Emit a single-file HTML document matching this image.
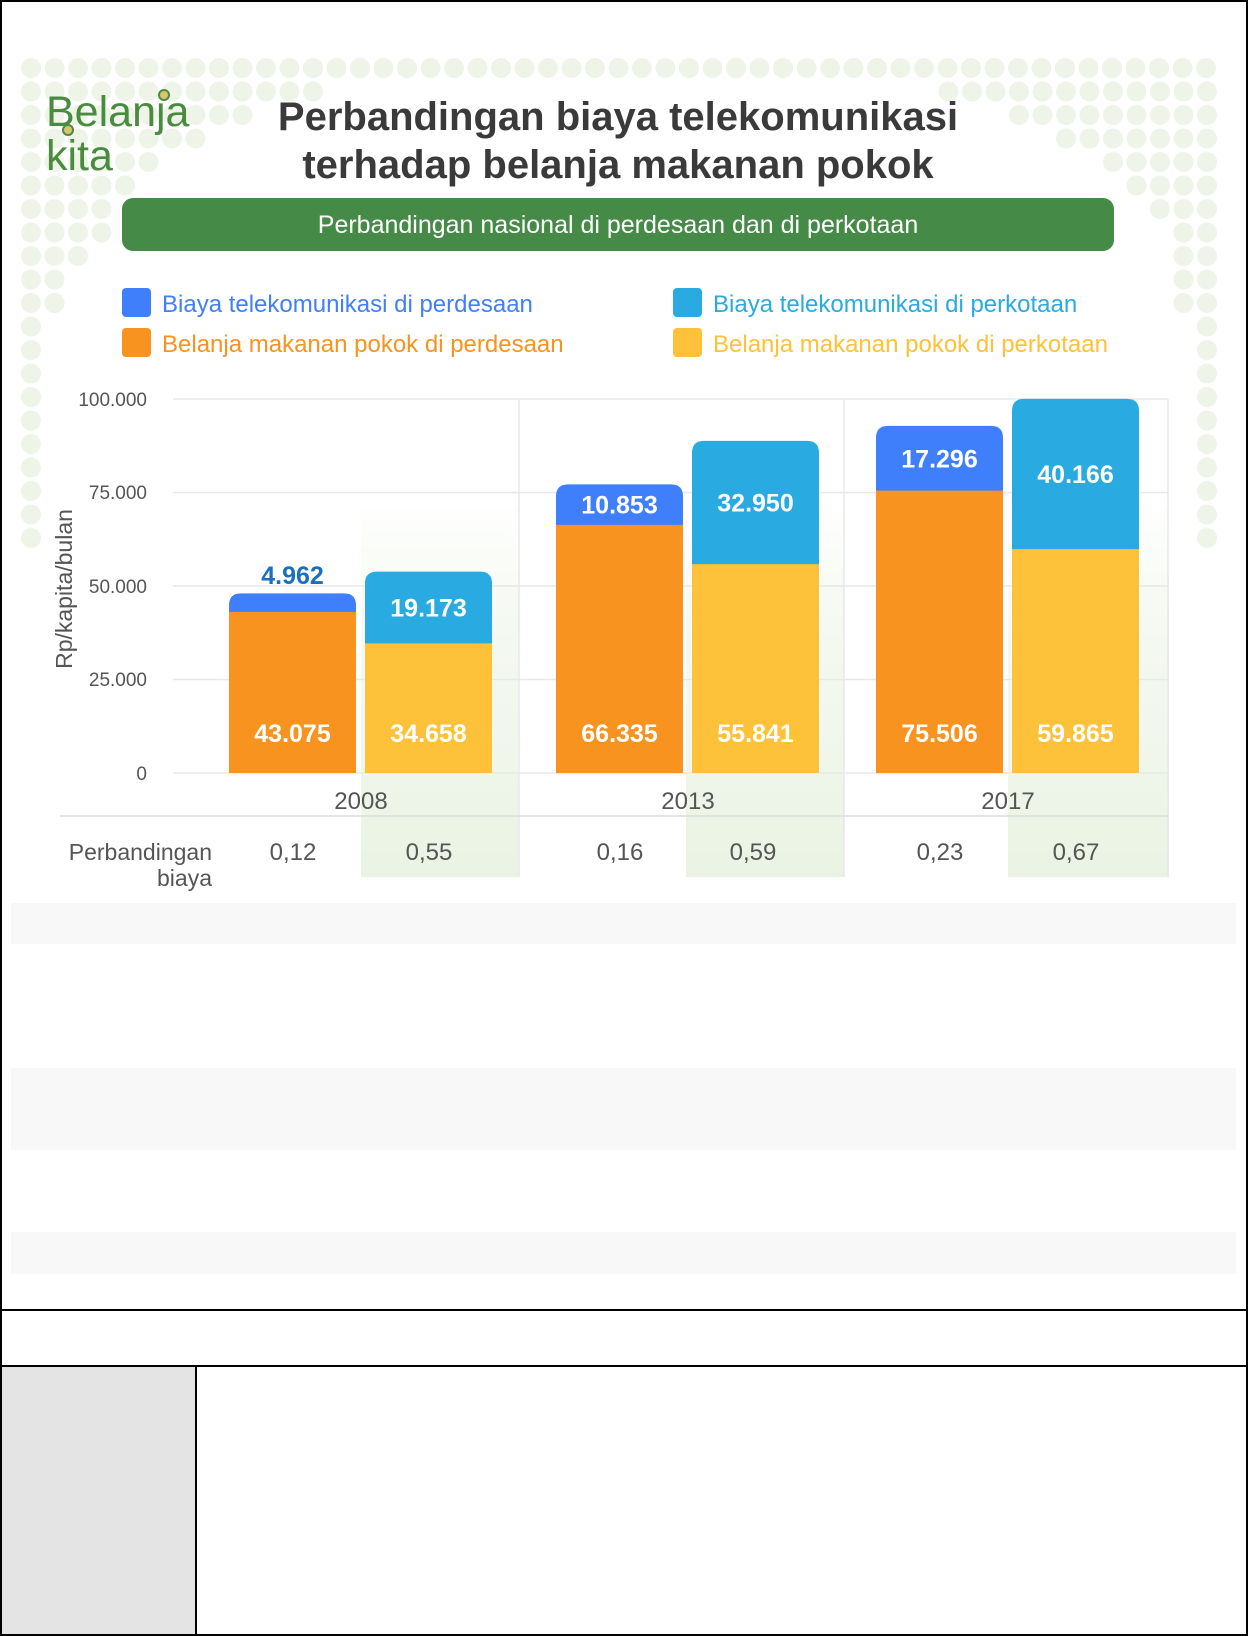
<!DOCTYPE html>
<html><head><meta charset="utf-8">
<style>
html,body{margin:0;padding:0;background:#fff;}
body{width:1248px;height:1636px;overflow:hidden;position:relative;font-family:"Liberation Sans",sans-serif;}
svg{position:absolute;left:0;top:0;}
</style></head>
<body>
<svg id="s" width="1248" height="1636" viewBox="0 0 1248 1636" xmlns="http://www.w3.org/2000/svg">
<g id="dots"></g>
<!-- logo -->
<text x="46" y="126" font-size="43" fill="#4a8c3f" font-family="Liberation Sans, sans-serif">Belanja</text>
<text x="46" y="170" font-size="43" fill="#4a8c3f" font-family="Liberation Sans, sans-serif">kita</text>
<circle cx="164" cy="95" r="5" fill="#d8c46e" stroke="#4a8c3f" stroke-width="2"/>
<circle cx="68" cy="130" r="5" fill="#d8c46e" stroke="#4a8c3f" stroke-width="2"/>
<!-- title -->
<text x="618" y="130" font-size="40" font-weight="bold" fill="#3a3a3a" text-anchor="middle">Perbandingan biaya telekomunikasi</text>
<text x="618" y="178" font-size="40" font-weight="bold" fill="#3a3a3a" text-anchor="middle">terhadap belanja makanan pokok</text>
<rect x="122" y="198" width="992" height="53" rx="11" fill="#468a47"/>
<text x="618" y="233" font-size="25" fill="#fff" text-anchor="middle">Perbandingan nasional di perdesaan dan di perkotaan</text>
<!-- legend -->
<rect x="122" y="288" width="29" height="29" rx="4" fill="#3f7ffb"/>
<text x="162" y="312" font-size="24" fill="#3f7ffb">Biaya telekomunikasi di perdesaan</text>
<rect x="122" y="328" width="29" height="29" rx="4" fill="#f7931e"/>
<text x="162" y="352" font-size="24" fill="#f7931e">Belanja makanan pokok di perdesaan</text>
<rect x="673" y="288" width="29" height="29" rx="4" fill="#29aae1"/>
<text x="713" y="312" font-size="24" fill="#29aae1">Biaya telekomunikasi di perkotaan</text>
<rect x="673" y="328" width="29" height="29" rx="4" fill="#fdc13a"/>
<text x="713" y="352" font-size="24" fill="#fdc13a">Belanja makanan pokok di perkotaan</text>
<defs>
<linearGradient id="gr" x1="0" y1="0" x2="0" y2="1">
<stop offset="0" stop-color="#f1f7ec" stop-opacity="0"/>
<stop offset="0.3" stop-color="#f1f7ec" stop-opacity="0.7"/>
<stop offset="1" stop-color="#eaf3e3"/>
</linearGradient>
</defs>
<rect x="361" y="501" width="158" height="376" fill="url(#gr)"/>
<rect x="686" y="501" width="158" height="376" fill="url(#gr)"/>
<rect x="1008" y="501" width="161" height="376" fill="url(#gr)"/>
<g stroke="#e8e8e8" stroke-width="1.5">
<line x1="173" y1="399" x2="1168" y2="399"/>
<line x1="173" y1="492.5" x2="1168" y2="492.5"/>
<line x1="173" y1="586" x2="1168" y2="586"/>
<line x1="173" y1="679.5" x2="1168" y2="679.5"/>
<line x1="173" y1="773" x2="1168" y2="773"/>
<line x1="519" y1="399" x2="519" y2="877"/>
<line x1="844" y1="399" x2="844" y2="877"/>
<line x1="1168" y1="399" x2="1168" y2="877"/>
<line x1="60" y1="816" x2="1168" y2="816" stroke="#dcdcdc"/>
</g>
<g font-size="19" fill="#555" text-anchor="end">
<text x="147" y="406">100.000</text>
<text x="147" y="499">75.000</text>
<text x="147" y="593">50.000</text>
<text x="147" y="686">25.000</text>
<text x="147" y="780">0</text>
</g>
<text transform="translate(72,589) rotate(-90)" font-size="23" fill="#555" text-anchor="middle">Rp/kapita/bulan</text>
<g id="bars"></g>
<g font-size="24" fill="#555" text-anchor="middle">
<text x="361" y="809">2008</text>
<text x="688" y="809">2013</text>
<text x="1008" y="809">2017</text>
<text x="293" y="860">0,12</text>
<text x="429" y="860">0,55</text>
<text x="620" y="860">0,16</text>
<text x="753" y="860">0,59</text>
<text x="940" y="860">0,23</text>
<text x="1076" y="860">0,67</text>
</g>
<text x="212" y="860" font-size="23" fill="#555" text-anchor="end">Perbandingan</text>
<text x="212" y="886" font-size="23" fill="#555" text-anchor="end">biaya</text>
<!-- lower page -->
<rect x="11" y="903" width="1225" height="41" fill="#f8f8f8"/>
<rect x="11" y="1068" width="1225" height="82" fill="#f8f8f8"/>
<rect x="11" y="1232" width="1225" height="42" fill="#f8f8f8"/>
<rect x="1" y="1366" width="195" height="270" fill="#e4e4e4"/>
<g stroke="#000" stroke-width="2" fill="none">
<rect x="1" y="1" width="1246" height="1634"/>
<line x1="0" y1="1310" x2="1248" y2="1310"/>
<line x1="0" y1="1366" x2="1248" y2="1366"/>
<line x1="196" y1="1366" x2="196" y2="1636"/>
</g>
</svg>
<script>
(function(){
var ns="http://www.w3.org/2000/svg";
function el(p,t,a,txt){var e=document.createElementNS(ns,t);for(var k in a)e.setAttribute(k,a[k]);if(txt)e.textContent=txt;var par=document.getElementById(p);par.appendChild(e);return e;}
var px=23.5,x0=31,y0=68;
var left=[50,13,10,8,6,5,4,4,3,2,2,1,1,1,1,1,1,1,1,1,1];
var right=[0,12,9,7,5,4,3,2,2,2,2,1,1,1,1,1,1,1,1,1,1];
var xr=1207;
for(var r=0;r<left.length;r++){
  var y=y0+r*px;
  if(r==0){for(var c=0;c*px+x0<=xr+1;c++)el("dots","circle",{cx:x0+c*px,cy:y,r:10,fill:"#eef5e8"});continue;}
  for(var c=0;c<left[r];c++)el("dots","circle",{cx:x0+c*px,cy:y,r:10,fill:"#eef5e8"});
  for(var c=0;c<right[r];c++)el("dots","circle",{cx:xr-c*px,cy:y,r:10,fill:"#eef5e8"});
}
var base=773,k=0.00374,w=127,R=12;
function rtop(x,yt,yb,fill){
  el("bars","path",{d:"M"+x+","+yb+"V"+(yt+R)+"Q"+x+","+yt+" "+(x+R)+","+yt+"H"+(x+w-R)+"Q"+(x+w)+","+yt+" "+(x+w)+","+(yt+R)+"V"+yb+"Z",fill:fill});
}
var data=[[229,43075,4962,"#f7931e","#3f7ffb"],[365,34658,19173,"#fdc13a","#29aae1"],
[556,66335,10853,"#f7931e","#3f7ffb"],[692,55841,32950,"#fdc13a","#29aae1"],
[876,75506,17296,"#f7931e","#3f7ffb"],[1012,59865,40166,"#fdc13a","#29aae1"]];
function fmt(v){var s=String(v);return s.slice(0,s.length-3)+"."+s.slice(-3);}
data.forEach(function(d,i){
  var x=d[0],yf=base-d[1]*k,yt=base-(d[1]+d[2])*k;
  rtop(x,yt,yf+1,d[4]);
  el("bars","rect",{x:x,y:yf,width:w,height:base-yf,fill:d[3]});
  el("bars","text",{x:x+w/2,y:742,"font-size":25,"font-weight":"bold",fill:"#fff","text-anchor":"middle"},fmt(d[1]));
  if(i==0) el("bars","text",{x:x+w/2,y:584,"font-size":25,"font-weight":"bold",fill:"#1a6fc0","text-anchor":"middle"},fmt(d[2]));
  else el("bars","text",{x:x+w/2,y:(yt+yf)/2+9,"font-size":25,"font-weight":"bold",fill:"#fff","text-anchor":"middle"},fmt(d[2]));
});
})();
</script>
</body></html>
